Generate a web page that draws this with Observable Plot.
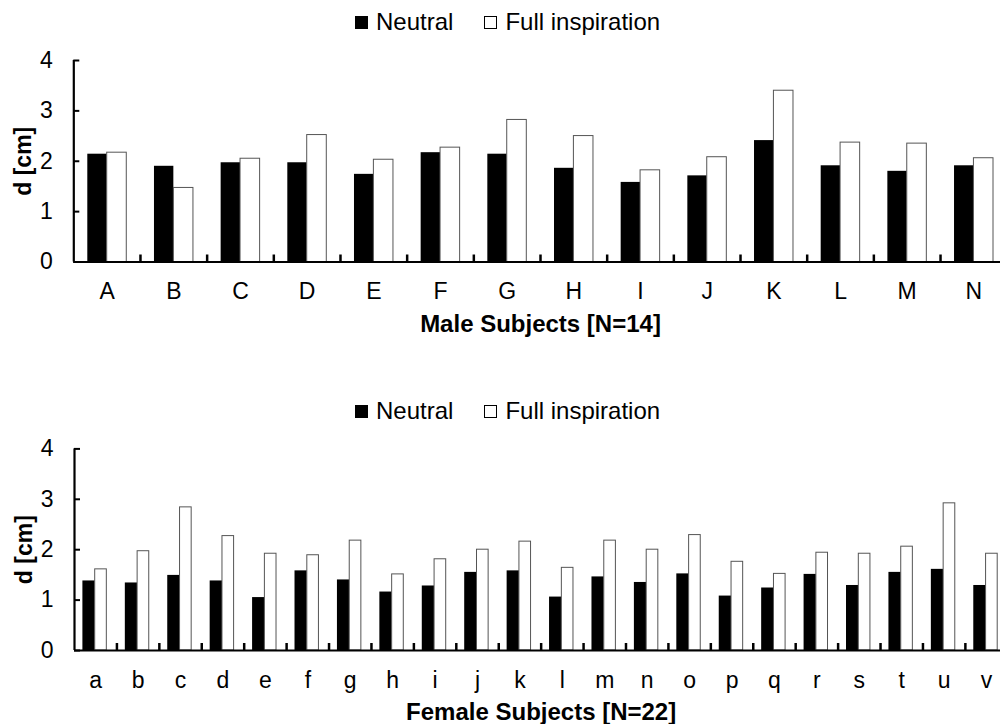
<!DOCTYPE html>
<html><head><meta charset="utf-8">
<script src="https://cdn.jsdelivr.net/npm/d3@7"></script>
<script src="https://cdn.jsdelivr.net/npm/@observablehq/plot@0.6"></script>
<style>
html,body{margin:0;padding:0;background:#fff;}
body{width:1000px;height:724px;overflow:hidden;position:relative;font-family:"Liberation Sans",Arial,sans-serif;}
.panel{position:absolute;left:0;width:1000px;overflow:hidden;}
.legend{position:absolute;display:flex;align-items:center;font-size:24px;line-height:26px;color:#000;white-space:nowrap;}
.legend .item{display:flex;align-items:center;margin-right:31px;}
.legend .sw{width:13px;height:13px;box-sizing:border-box;border:1px solid #000;margin-right:8px;}
</style></head><body>
<script>
// ---- data ----
const series = ["Neutral", "Full inspiration"];
const seriesFill = ["#000", "#fff"];
const yTicks = [0, 1, 2, 3, 4];
const yTitle = "d [cm]";

const maleSubjects = ["A","B","C","D","E","F","G","H","I","J","K","L","M","N"];
const maleNeutral  = [2.14,1.90,1.97,1.97,1.74,2.17,2.14,1.86,1.58,1.71,2.41,1.91,1.80,1.91];
const maleFull     = [2.17,1.47,2.05,2.52,2.03,2.27,2.82,2.50,1.82,2.08,3.40,2.37,2.35,2.06];
const maleTitle = "Male Subjects [N=14]";

const femaleSubjects = ["a","b","c","d","e","f","g","h","i","j","k","l","m","n","o","p","q","r","s","t","u","v"];
const femaleNeutral  = [1.38,1.34,1.49,1.38,1.05,1.58,1.40,1.16,1.28,1.55,1.58,1.06,1.46,1.35,1.52,1.08,1.24,1.51,1.29,1.55,1.61,1.29];
const femaleFull     = [1.61,1.97,2.84,2.27,1.92,1.89,2.18,1.51,1.81,2.00,2.16,1.64,2.18,2.00,2.29,1.76,1.52,1.94,1.92,2.06,2.92,1.92];
const femaleTitle = "Female Subjects [N=22]";

function legend(top) {
  const div = document.createElement("div");
  div.className = "legend";
  div.style.left = "355px";
  div.style.top = top + "px";
  series.forEach((s, i) => {
    const item = document.createElement("div");
    item.className = "item";
    const sw = document.createElement("span");
    sw.className = "sw";
    sw.style.background = seriesFill[i];
    const t = document.createElement("span");
    t.textContent = s;
    item.appendChild(sw); item.appendChild(t);
    div.appendChild(item);
  });
  document.body.appendChild(div);
}

function panel({subjects, neutral, full, title, top, height, marginTop, marginBottom, x0, x1, ins}) {
  const width = 1000;
  const marginLeft = x0;
  const bw = (x1 - x0) / subjects.length;
  const innerH = height - marginTop - marginBottom;
  const innerW = width - marginLeft;
  const rows = subjects.map((s, i) => ({subject: s, neutral: neutral[i], full: full[i]}));
  const chart = Plot.plot({
    width, height, marginTop, marginBottom, marginLeft, marginRight: 0,
    style: {fontFamily: "'Liberation Sans', Arial, sans-serif", fontSize: "23px", color: "#000", background: "#fff"},
    x: {type: "band", domain: subjects, range: [x0, x1], padding: 0, round: false, axis: null},
    y: {domain: [yTicks[0], yTicks[yTicks.length - 1]], axis: null},
    marks: [
      Plot.barY(rows, {x: "subject", y: "neutral", fill: seriesFill[0], insetLeft: ins[0], insetRight: ins[1]}),
      Plot.barY(rows, {x: "subject", y: "full", fill: seriesFill[1], stroke: "#555", strokeWidth: 1, insetLeft: ins[2], insetRight: ins[3]}),
      Plot.ruleY([yTicks[0]], {stroke: "#000", strokeWidth: 2.2}),
      Plot.tickX(subjects.slice(0, 1), {x: d => d, dx: -bw / 2, stroke: "#000", strokeWidth: 2.2}),
      Plot.tickX(subjects.slice(1), {x: d => d, dx: -bw / 2, insetTop: innerH - 7, stroke: "#000", strokeWidth: 2.5}),
      Plot.tickY(yTicks, {y: d => d, insetRight: innerW - 6, stroke: "#000", strokeWidth: 2}),
      Plot.axisY(yTicks, {tickSize: 0, tickPadding: 21, fontSize: 23, tickFormat: d => String(d), label: null}),
      Plot.axisX({tickSize: 0, tickPadding: 21, fontSize: 23, label: null}),
      Plot.text([title], {frameAnchor: "bottom", lineAnchor: "middle", dy: 62, dx: (x1 - width) / 2, fontSize: 24, fontWeight: "bold"}),
      Plot.text([yTitle], {frameAnchor: "left", lineAnchor: "middle", textAnchor: "middle", dx: -50, rotate: -90, fontSize: 23, fontWeight: "bold"})
    ]
  });
  const wrap = document.createElement("div");
  wrap.className = "panel";
  wrap.style.top = top + "px";
  wrap.style.height = height + "px";
  wrap.appendChild(chart);
  document.body.appendChild(wrap);
}

panel({subjects: maleSubjects, neutral: maleNeutral, full: maleFull, title: maleTitle,
  top: 0, height: 345, marginTop: 60, marginBottom: 83.5, x0: 73.3, x1: 1006.7,
  ins: [14, 33.3, 33.4, 13.7]});
panel({subjects: femaleSubjects, neutral: femaleNeutral, full: femaleFull, title: femaleTitle,
  top: 390, height: 334, marginTop: 58.4, marginBottom: 74, x0: 74, x1: 1007.3,
  ins: [8.4, 21.7, 20.7, 10.1]});
legend(9);
legend(398);
</script>
</body></html>
